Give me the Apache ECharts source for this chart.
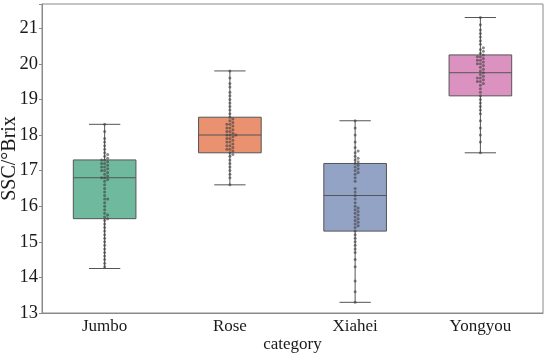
<!DOCTYPE html>
<html>
<head>
<meta charset="utf-8">
<script src="https://cdn.jsdelivr.net/npm/echarts@6/dist/echarts.min.js"></script>
<style>html,body{margin:0;padding:0;background:#fff}#c{width:550px;height:356px}</style>
</head>
<body>
<div id="c"></div>
<script>
// ---- data ----
const categories = ['Jumbo', 'Rose', 'Xiahei', 'Yongyou'];
// box statistics: [whisker low, Q1, median, Q3, whisker high]
const boxJumbo   = [14.25, 15.65, 16.8, 17.3, 18.3];
const boxRose    = [16.6, 17.5, 18.0, 18.5, 19.8];
const boxXiahei  = [13.3, 15.3, 16.3, 17.2, 18.4];
const boxYongyou = [17.5, 19.1, 19.75, 20.25, 21.3];
// individual observations
const ptsJumbo = [18.3, 18.1, 17.9, 17.8, 17.7, 17.6, 17.5, 17.45, 17.4, 17.35, 17.3, 17.3, 17.25, 17.2, 17.2, 17.15, 17.1, 17.1, 17.05, 17.0, 17.0, 16.95, 16.9, 16.85, 16.8, 16.8, 16.75, 16.7, 16.6, 16.5, 16.4, 16.3, 16.2, 16.2, 16.1, 16.0, 15.9, 15.8, 15.75, 15.7, 15.65, 15.6, 15.5, 15.4, 15.3, 15.2, 15.1, 15.0, 14.9, 14.8, 14.7, 14.6, 14.5, 14.4, 14.3];
const ptsRose = [19.8, 19.6, 19.45, 19.35, 19.2, 19.1, 19.0, 18.9, 18.8, 18.7, 18.6, 18.5, 18.45, 18.4, 18.35, 18.3, 18.3, 18.25, 18.2, 18.2, 18.15, 18.1, 18.1, 18.05, 18.0, 18.0, 18.0, 17.95, 17.9, 17.9, 17.85, 17.8, 17.8, 17.75, 17.7, 17.7, 17.65, 17.6, 17.6, 17.55, 17.5, 17.45, 17.4, 17.3, 17.2, 17.1, 17.0, 16.9, 16.8, 16.6];
const ptsXiahei = [18.4, 18.2, 18.0, 17.8, 17.65, 17.55, 17.5, 17.4, 17.35, 17.3, 17.25, 17.2, 17.15, 17.1, 17.05, 17.0, 16.95, 16.9, 16.8, 16.7, 16.5, 16.4, 16.3, 16.2, 16.1, 16.0, 15.95, 15.9, 15.85, 15.8, 15.75, 15.7, 15.65, 15.6, 15.55, 15.5, 15.45, 15.4, 15.3, 15.2, 15.1, 15.0, 14.9, 14.8, 14.7, 14.5, 14.3, 13.9, 13.6, 13.3];
const ptsYongyou = [21.3, 21.1, 20.95, 20.85, 20.75, 20.65, 20.55, 20.45, 20.4, 20.35, 20.3, 20.25, 20.2, 20.2, 20.15, 20.1, 20.1, 20.05, 20.0, 20.0, 19.95, 19.9, 19.85, 19.8, 19.75, 19.7, 19.65, 19.6, 19.6, 19.55, 19.5, 19.5, 19.45, 19.4, 19.3, 19.2, 19.1, 19.0, 18.9, 18.8, 18.7, 18.6, 18.4, 18.2, 18.0, 17.8, 17.5];
const yTicks = [13, 14, 15, 16, 17, 18, 19, 20, 21];

const boxes = [boxJumbo, boxRose, boxXiahei, boxYongyou];
const pts = [ptsJumbo, ptsRose, ptsXiahei, ptsYongyou];
const colors = ['#6fb99e', '#ea9270', '#93a3c6', '#dc92c0'];
const edge = '#555555';

const chart = echarts.init(document.getElementById('c'), null, {renderer: 'canvas'});
const font = '"Liberation Serif", "Times New Roman", serif';

// swarm layout in pixel space (layout only, values come from arrays)
const gridLeft = 42, gridRight = 7, gridTop = 4, gridBottom = 43;
const yMin = 13, yMax = 21.68;
const plotH = 356 - gridTop - gridBottom, plotW = 550 - gridLeft - gridRight;
const pxPerY = plotH / (yMax - yMin), pxPerCat = plotW / categories.length;
const dotD = 3;
const scatterData = [];
pts.forEach((arr, ci) => {
  const placed = [];
  arr.slice().sort((a, b) => a - b).forEach(v => {
    const py = v * pxPerY;
    let off = 0;
    for (let k = 0; k < 60; k++) {
      const cand = k === 0 ? 0 : (k % 2 ? 1 : -1) * Math.ceil(k / 2) * dotD * 0.5;
      let ok = true;
      for (const p of placed) {
        const dx = p[0] - cand, dy = p[1] - py;
        if (dx * dx + dy * dy < dotD * dotD) { ok = false; break; }
      }
      if (ok) { off = cand; break; }
    }
    placed.push([off, py]);
    scatterData.push([ci + off / pxPerCat, v]);
  });
});

const boxData = boxes.map((b, i) => [i].concat(b));

chart.setOption({
  animation: false,
  grid: {left: gridLeft, right: gridRight, top: gridTop, bottom: gridBottom, containLabel: false, outerBoundsMode: 'none',
    show: true, borderColor: '#8a8a8a', borderWidth: 1},
  xAxis: [{
    type: 'category', data: categories, boundaryGap: true,
    name: 'category', nameLocation: 'middle', nameGap: 23, nameMoveOverlap: false,
    nameTextStyle: {fontFamily: font, fontSize: 17, color: '#1a1a1a', verticalAlign: 'top'},
    axisLine: {onZero: false, lineStyle: {color: '#8a8a8a'}},
    axisTick: {alignWithLabel: true, length: 3, lineStyle: {color: '#8a8a8a'}},
    axisLabel: {fontFamily: font, fontSize: 17, color: '#1a1a1a', margin: 5},
    splitLine: {show: false}
  }, {
    type: 'value', min: -0.5, max: 3.5, show: false
  }],
  yAxis: {
    type: 'value', min: yMin, max: yMax, interval: 1,
    name: 'SSC/°Brix', nameLocation: 'middle', nameGap: 22, nameMoveOverlap: false,
    nameTextStyle: {fontFamily: font, fontSize: 20, color: '#1a1a1a'},
    axisLine: {show: true, onZero: false, lineStyle: {color: '#8a8a8a'}},
    axisTick: {show: true, length: 3, lineStyle: {color: '#8a8a8a'}},
    axisLabel: {fontFamily: font, fontSize: 18.5, color: '#1a1a1a', margin: 4,
      formatter: v => yTicks.indexOf(v) >= 0 ? String(v) : ''},
    splitLine: {show: false}
  },
  series: [{
    type: 'custom', xAxisIndex: 0, data: boxData,
    renderItem: function (params, api) {
      const ci = api.value(0);
      const cat = categories[ci];
      const pLo = api.coord([cat, api.value(1)]);
      const pQ1 = api.coord([cat, api.value(2)]);
      const pMed = api.coord([cat, api.value(3)]);
      const pQ3 = api.coord([cat, api.value(4)]);
      const pHi = api.coord([cat, api.value(5)]);
      const band = api.size([1, 0])[0];
      const bw = band * 0.5, cw = bw * 0.5;
      const cx = pMed[0];
      const ls = {stroke: edge, lineWidth: 1, fill: null};
      return {type: 'group', children: [
        {type: 'line', shape: {x1: cx, y1: pQ3[1], x2: cx, y2: pHi[1]}, style: ls},
        {type: 'line', shape: {x1: cx, y1: pQ1[1], x2: cx, y2: pLo[1]}, style: ls},
        {type: 'line', shape: {x1: cx - cw / 2, y1: pHi[1], x2: cx + cw / 2, y2: pHi[1]}, style: ls},
        {type: 'line', shape: {x1: cx - cw / 2, y1: pLo[1], x2: cx + cw / 2, y2: pLo[1]}, style: ls},
        {type: 'rect', shape: {x: cx - bw / 2, y: pQ3[1], width: bw, height: pQ1[1] - pQ3[1]},
          style: {fill: colors[ci], stroke: edge, lineWidth: 1}},
        {type: 'line', shape: {x1: cx - bw / 2, y1: pMed[1], x2: cx + bw / 2, y2: pMed[1]}, style: ls}
      ]};
    }
  }, {
    type: 'scatter', xAxisIndex: 1, data: scatterData,
    symbol: 'circle', symbolSize: 3,
    itemStyle: {color: 'rgba(60,60,60,0.75)'},
    z: 5
  }]
});
</script>
</body>
</html>
